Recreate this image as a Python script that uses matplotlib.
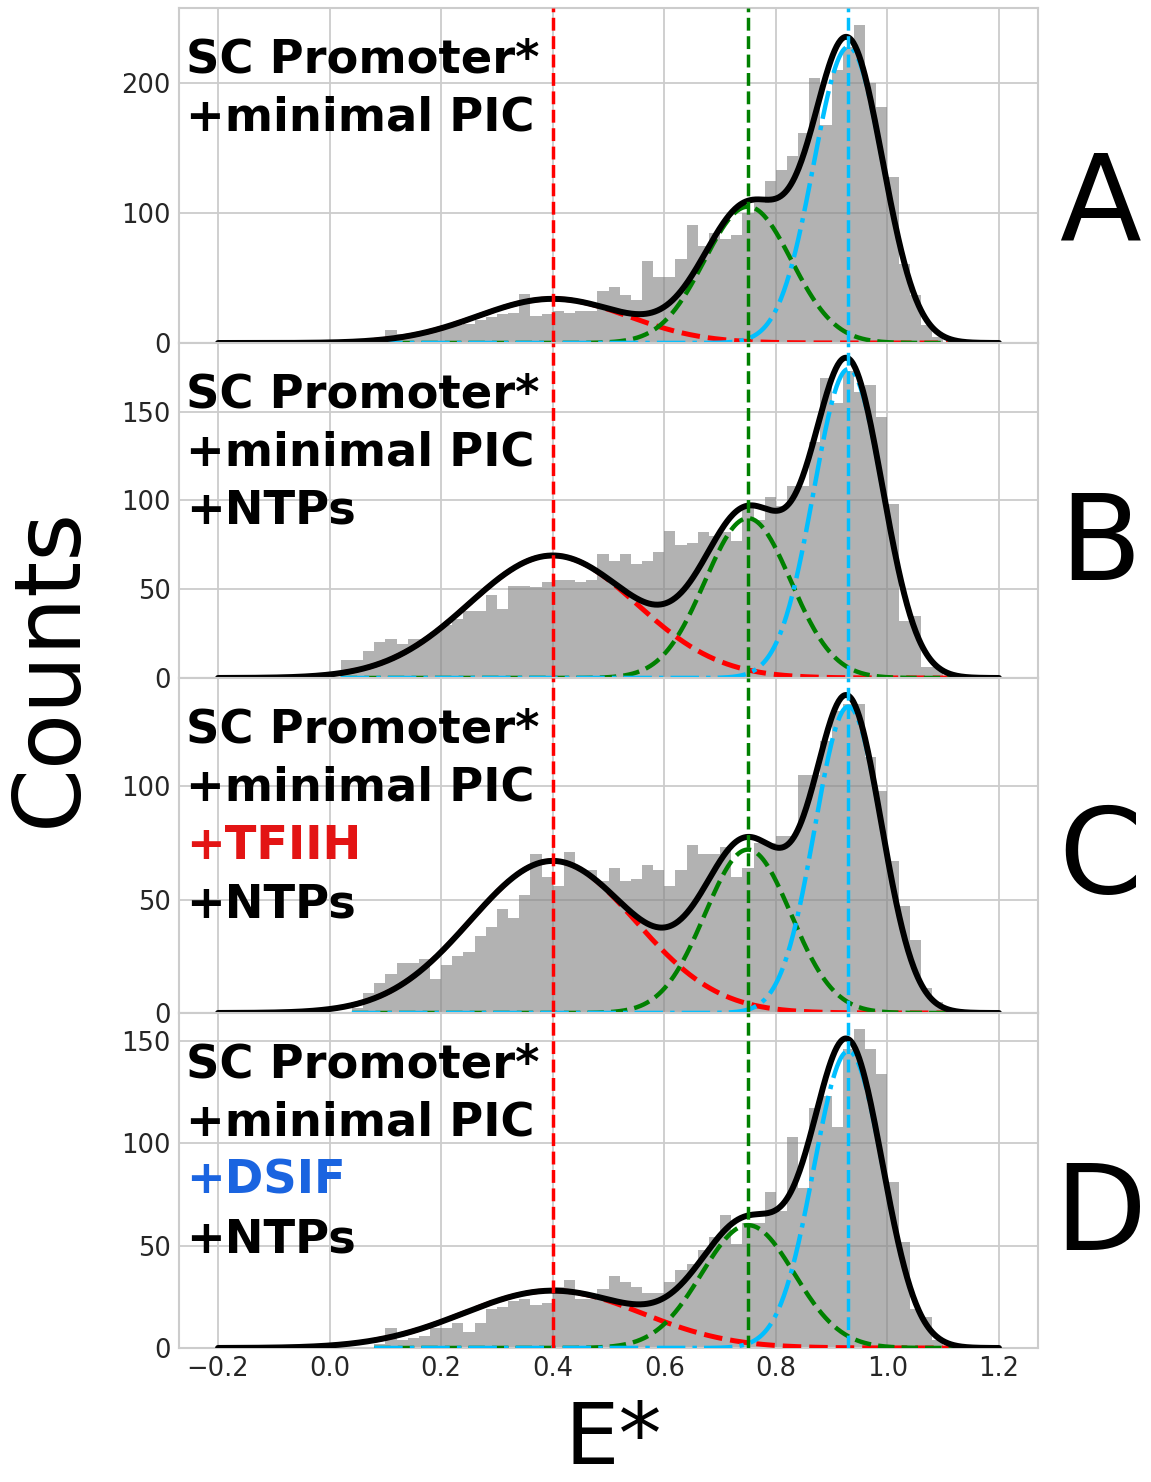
import numpy as np
import matplotlib
matplotlib.use("Agg")
import matplotlib.pyplot as plt
from matplotlib.ticker import MultipleLocator

# ---------------- data ----------------
bin_edges = np.round(np.arange(0.0, 1.1201, 0.02), 2)   # 56 bins of width 0.02

counts_A = [0, 0, 0, 0, 2, 10, 7, 6, 8, 10, 12, 14, 15, 18, 20, 22, 23, 38, 21, 22,
            25, 23, 25, 25, 40, 43, 37, 33, 63, 51, 51, 65, 91, 75, 85, 80, 83, 100, 108, 125,
            133, 144, 162, 204, 168, 210, 228, 245, 200, 182, 128, 61, 37, 14, 5, 1]
counts_B = [0, 10, 10, 15, 20, 22, 19, 22, 22, 26, 30, 33, 38, 38, 47, 39, 52, 52, 51, 54,
            55, 55, 54, 55, 70, 66, 70, 64, 66, 71, 83, 75, 76, 82, 80, 82, 77, 97, 89, 102,
            97, 108, 108, 133, 169, 155, 173, 161, 165, 147, 98, 32, 35, 6, 6, 1]
counts_C = [0, 0, 2, 9, 13, 17, 22, 22, 24, 15, 21, 25, 27, 34, 38, 46, 42, 52, 70, 60,
            56, 71, 63, 63, 58, 64, 58, 59, 65, 63, 56, 63, 74, 70, 70, 73, 60, 64, 75, 75,
            78, 78, 105, 105, 120, 133, 136, 136, 113, 98, 67, 47, 32, 11, 5, 1]
counts_D = [0, 0, 0, 0, 2, 10, 4, 5, 6, 10, 10, 12, 8, 12, 19, 20, 23, 24, 21, 22,
            30, 33, 24, 24, 29, 35, 32, 30, 27, 27, 32, 38, 41, 48, 54, 65, 51, 61, 61, 76,
            67, 103, 78, 117, 123, 108, 146, 156, 146, 134, 81, 52, 19, 15, 4, 1]

# Gaussian fit components: (low-FRET red, mid green, high-FRET cyan)
centers = [0.40, 0.75, 0.93]
amp_A = [34, 105, 228]
sig_A = [0.135, 0.078, 0.062]
amp_B = [69, 90, 174]
sig_B = [0.150, 0.077, 0.062]
amp_C = [67, 72, 135]
sig_C = [0.148, 0.077, 0.060]
amp_D = [28, 60, 145]
sig_D = [0.160, 0.083, 0.062]

ytops = [258, 188.7, 147.6, 163.6]
ytick_steps = [100, 50, 50, 50]
panel_letters = ["A", "B", "C", "D"]

text_lines_A = [("SC Promoter*", "black"), ("+minimal PIC", "black")]
text_lines_B = [("SC Promoter*", "black"), ("+minimal PIC", "black"), ("+NTPs", "black")]
text_lines_C = [("SC Promoter*", "black"), ("+minimal PIC", "black"),
                ("+TFIIH", "#e31414"), ("+NTPs", "black")]
text_lines_D = [("SC Promoter*", "black"), ("+minimal PIC", "black"),
                ("+DSIF", "#1a64e0"), ("+NTPs", "black")]

# ---------------- figure ----------------
plt.rcParams["font.family"] = ["DejaVu Sans"]
W, H = 1151, 1482
fig = plt.figure(figsize=(W / 100, H / 100), dpi=100)

left = 179 / W
width = (1038 - 179) / W
ph = 335 / H
bottom0 = 1 - 1348 / H

panels = [
    (counts_A, amp_A, sig_A, text_lines_A),
    (counts_B, amp_B, sig_B, text_lines_B),
    (counts_C, amp_C, sig_C, text_lines_C),
    (counts_D, amp_D, sig_D, text_lines_D),
]

comp_colors = ["red", "green", "deepskyblue"]
comp_styles = ["--", "--", "-."]
comp_lw = [3.6, 3.2, 3.2]
letter_baselines = [0.3075, 0.293, 0.358, 0.293]
line_y = [0.806, 0.633, 0.460, 0.284]

xfull = np.linspace(-0.2, 1.2, 800)
axes = []
for i, (counts, amps, sigs, lines) in enumerate(panels):
    b = bottom0 + (3 - i) * ph
    ax = fig.add_axes([left, b, width, ph])
    axes.append(ax)
    ax.set_facecolor("white")
    ax.grid(True, color="#cccccc", lw=1.3)
    ax.set_axisbelow(True)
    for s in ax.spines.values():
        s.set_color("#cccccc")
        s.set_linewidth(1.5)

    counts = np.array(counts, dtype=float)
    ax.bar(bin_edges[:-1], counts, width=0.02, align="edge", color="gray",
           alpha=0.6, lw=0, zorder=1)

    nz = np.nonzero(counts)[0]
    xc = np.linspace(bin_edges[nz[0]], bin_edges[nz[-1] + 1], 600)
    for a, m, s, c, ls, lw in zip(amps, centers, sigs, comp_colors, comp_styles, comp_lw):
        ax.plot(xc, a * np.exp(-(xc - m) ** 2 / (2 * s ** 2)), color=c, ls=ls,
                lw=lw, zorder=3)
    total = sum(a * np.exp(-(xfull - m) ** 2 / (2 * s ** 2))
                for a, m, s in zip(amps, centers, sigs))
    ax.plot(xfull, total, color="black", lw=4.3, zorder=4, solid_capstyle="round")

    for m, c in zip(centers, comp_colors):
        ax.axvline(m, color=c, ls="--", lw=2.5, zorder=5)

    ax.set_xlim(-0.27, 1.27)
    ax.set_ylim(0, ytops[i])
    ax.xaxis.set_major_locator(MultipleLocator(0.2))
    ax.yaxis.set_major_locator(MultipleLocator(ytick_steps[i]))
    ax.tick_params(axis="both", length=0, labelsize=18.5, labelcolor="#262626", pad=6)
    if i < 3:
        ax.tick_params(axis="x", labelbottom=False)

    for j, (txt, col) in enumerate(lines):
        ax.text(0.008, line_y[j], txt, transform=ax.transAxes, fontsize=33.4,
                fontweight="bold", color=col, ha="left", va="baseline", zorder=6)

    ax.text(1.072, letter_baselines[i], panel_letters[i], transform=ax.transAxes,
            fontsize=86, ha="center", va="baseline", color="black")

fig.text(0.043, 0.55, "Counts", rotation=90, fontsize=66, ha="center", va="center")
fig.text(0.533, 0.0, "E*", fontsize=62, ha="center", va="bottom")

fig.savefig("out.png", dpi=100, facecolor="white")
